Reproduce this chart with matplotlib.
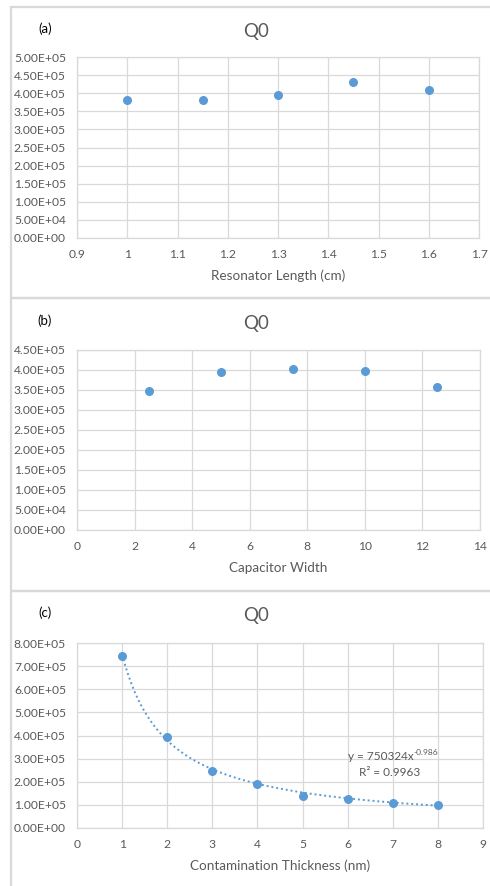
import numpy as np
import matplotlib
matplotlib.use("Agg")
from matplotlib import pyplot as plt
from matplotlib.patches import Rectangle
from matplotlib.ticker import FuncFormatter, MultipleLocator

# data
lengthX = [1.0, 1.15, 1.3, 1.45, 1.6]
lengthQ = [3.82e5, 3.82e5, 3.94e5, 4.32e5, 4.09e5]

widthX = [2.5, 5.0, 7.5, 10.0, 12.5]
widthQ = [3.47e5, 3.96e5, 4.02e5, 3.97e5, 3.57e5]

thickX = [1, 2, 3, 4, 5, 6, 7, 8]
thickQ = [7.45e5, 3.94e5, 2.48e5, 1.92e5, 1.40e5, 1.27e5, 1.08e5, 0.99e5]

# power trendline shown on panel (c)
fitA = 750324
fitB = -0.986
fitR2 = 0.9963

W, H = 490, 886
blue = "#5B9BD5"
grey = "#595959"
gridc = "#D9D9D9"

plt.rcParams["font.family"] = ["Lato", "DejaVu Sans"]
fig = plt.figure(figsize=(W / 100, H / 100), dpi=100)
fig.patch.set_facecolor("white")


def px_axes(left, top, right, bottom):
    return fig.add_axes([left / W, 1 - bottom / H, (right - left) / W, (bottom - top) / H])


def style(ax, xlim, xstep, ylim, ystep, xlabel):
    ax.set_xlim(*xlim)
    ax.set_ylim(*ylim)
    ax.xaxis.set_major_locator(MultipleLocator(xstep))
    ax.yaxis.set_major_locator(MultipleLocator(ystep))
    ax.yaxis.set_major_formatter(FuncFormatter(lambda v, p: f"{v:.2E}"))
    ax.xaxis.set_major_formatter(FuncFormatter(lambda v, p: f"{v:g}"))
    ax.grid(True, color=gridc, linewidth=0.9)
    ax.set_axisbelow(True)
    for s in ax.spines.values():
        s.set_color(gridc)
        s.set_linewidth(0.9)
    ax.tick_params(length=0, labelsize=8.7, labelcolor=grey, pad=8)
    ax.set_xlabel(xlabel, fontsize=9.7, color=grey, labelpad=7)


def heading(tag, y_tag, y_title):
    fig.text(45 / W, 1 - y_tag / H, tag, fontsize=9.5, color="black", ha="center", va="center")
    fig.text(256 / W, 1 - y_title / H, "Q0", fontsize=13.5, color=grey, ha="center", va="center")


# panel frames
for top, bot in [(7, 298), (298, 591), (591, 900)]:
    fig.patches.append(Rectangle((10.5 / W, 1 - bot / H), 500 / W, (bot - top) / H,
                                 transform=fig.transFigure, fill=False,
                                 edgecolor=gridc, linewidth=1.6))

# (a)
ax1 = px_axes(77, 57, 479, 238)
ax1.scatter(lengthX, lengthQ, s=30, color=blue, zorder=3)
style(ax1, (0.9, 1.7), 0.1, (0, 5e5), 5e4, "Resonator Length (cm)")
heading("(a)", 29, 31)

# (b)
ax2 = px_axes(77, 350, 480, 530)
ax2.scatter(widthX, widthQ, s=30, color=blue, zorder=3)
style(ax2, (0, 14), 2, (0, 4.5e5), 5e4, "Capacitor Width")
heading("(b)", 321, 323)

# (c)
ax3 = px_axes(77, 643, 483, 828)
xx = np.linspace(min(thickX), max(thickX), 200)
ax3.plot(xx, fitA * xx ** fitB, linestyle=(0, (1, 1.5)), color=blue, linewidth=1.4, zorder=2)
ax3.scatter(thickX, thickQ, s=30, color=blue, zorder=3)
style(ax3, (0, 9), 1, (0, 8e5), 1e5, "Contamination Thickness (nm)")
heading("(c)", 613, 616)

eq = ax3.text(6.0, 3.1e5, f"y = {fitA}x", fontsize=8.5, color=grey, ha="left", va="center")
ax3.annotate(f"{fitB}", xy=(1.0, 0.85), xycoords=eq, fontsize=6, color=grey,
             ha="left", va="center")
ax3.text(6.94, 2.42e5, f"R² = {fitR2}", fontsize=8.5, color=grey, ha="center", va="center")

fig.savefig("out.png", dpi=100)
